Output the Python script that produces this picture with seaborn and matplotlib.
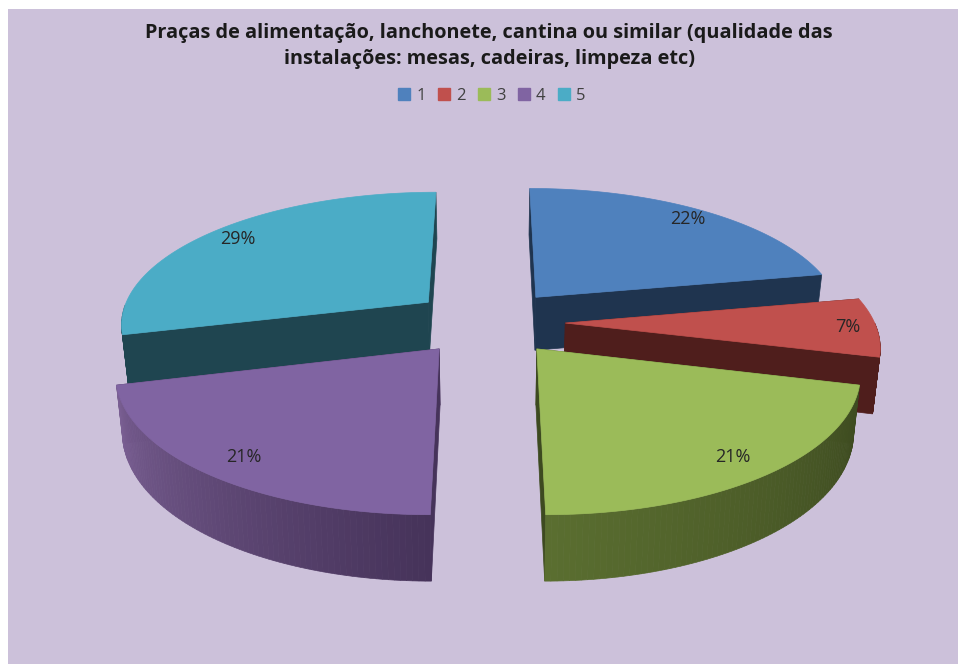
import numpy as np
import seaborn as sns
from matplotlib import pyplot as plt
from matplotlib.patches import Patch

title = "Praças de alimentação, lanchonete, cantina ou similar (qualidade das\ninstalações: mesas, cadeiras, limpeza etc)"
categories = ["1", "2", "3", "4", "5"]
shares = [22, 7, 21, 21, 29]
top_colors = ["#4F81BD", "#C0504D", "#9BBB59", "#8064A2", "#4BACC6"]
wall_colors = ["#1F344F", "#4F1E1C", "#3D4A20", "#46335A", "#1F4550"]
# lado curvo vai clareando
arc_shades = {
    2: ["#3D4A20", "#5A6E30"],
    3: ["#46335A", "#7A5F93"],
}
background = "#CCC1DA"

# projecao do disco
cx, cy = 488, 322
rx, ry = 309, 132
persp = 0.15
explode = 0.25
depth = 54.5
converge = 0.018
label_radius = [0.9, 0.91, 0.87, 0.87, 0.88]


def project(u, v):
    s = 1 / (1 + persp * v)
    return cx + rx * u * s, cy - ry * v * s, s


def wedge_point(a, r, ox, oy):
    return project(ox + r * np.cos(a), oy + r * np.sin(a))


def wall_quad(p0, p1, color, z):
    # desce a borda do tampo ate a base, fechando um pouco para o centro
    x0, y0, s0 = p0
    x1, y1, s1 = p1
    bx0 = cx + (x0 - cx) * (1 - converge)
    bx1 = cx + (x1 - cx) * (1 - converge)
    ax.fill([x0, x1, bx1, bx0], [y0, y1, y1 + depth * s1, y0 + depth * s0],
            color=color, lw=0.5, zorder=z)


sns.set_theme(style="white")
plt.rcParams["font.family"] = ["Open Sans", "DejaVu Sans"]

fig = plt.figure(figsize=(9.58, 6.64), dpi=100, facecolor="white")
ax = fig.add_axes([8 / 958, 0, 950 / 958, 655 / 664], facecolor=background)
ax.set(xlim=(8, 958), ylim=(664, 9), xticks=[], yticks=[])
sns.despine(ax=ax, left=True, bottom=True)

# limites das fatias a partir dos valores, sentido horario desde o topo
ends = 90 - np.cumsum(shares) * 3.6
starts = np.r_[90, ends[:-1]]

# ordem de pintura: de tras para a frente
for z, i in enumerate([4, 0, 1, 3, 2]):
    a0, a1 = np.radians(starts[i]), np.radians(ends[i])
    mid = (a0 + a1) / 2
    ox, oy = explode * np.cos(mid), explode * np.sin(mid)

    wall_quad(project(ox, oy), wedge_point(a0, 1, ox, oy), wall_colors[i], z)
    wall_quad(project(ox, oy), wedge_point(a1, 1, ox, oy), wall_colors[i], z)

    # parede curva, so a parte virada para a frente
    angles = np.linspace(a0, a1, 80)
    front = angles[np.sin(angles) < 0]
    if len(front) > 1:
        colors = sns.blend_palette(arc_shades.get(i, [wall_colors[i]] * 2), n_colors=len(front) - 1)
        for k in range(len(front) - 1):
            wall_quad(wedge_point(front[k], 1, ox, oy), wedge_point(front[k + 1], 1, ox, oy), colors[k], z)

    # tampo da fatia
    x_arc, y_arc, _ = wedge_point(angles, 1, ox, oy)
    xa, ya, _ = project(ox, oy)
    ax.fill(np.r_[xa, x_arc], np.r_[ya, y_arc], color=top_colors[i], lw=0.5, zorder=z)

    lx, ly, _ = wedge_point(mid, label_radius[i], ox, oy)
    ax.text(lx, ly, f"{shares[i]}%", ha="center", va="center",
            fontsize=13, color="#262626", zorder=10)

ax.text(489, 46, title, ha="center", va="center", fontsize=14.3, fontweight="bold",
        color="#1A1A1A", linespacing=1.36)

handles = [Patch(color=c, label=n) for c, n in zip(top_colors, categories)]
ax.legend(handles=handles, ncol=5, frameon=False, loc="center",
          bbox_to_anchor=(492, 96), bbox_transform=ax.transData,
          fontsize=12, labelcolor="#404040", handlelength=0.72, handleheight=0.72,
          handletextpad=0.36, columnspacing=0.75)

fig.savefig("out.png", dpi=100)
